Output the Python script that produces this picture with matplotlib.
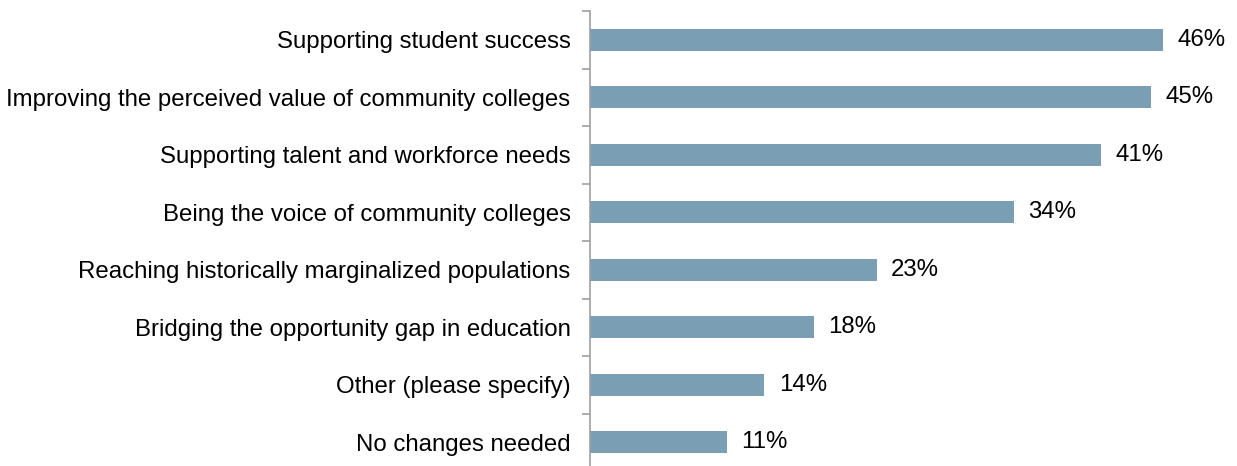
import matplotlib.pyplot as plt
import numpy as np

plt.rcParams['font.family'] = ['Liberation Sans', 'DejaVu Sans']

categories = [
    'Supporting student success',
    'Improving the perceived value of community colleges',
    'Supporting talent and workforce needs',
    'Being the voice of community colleges',
    'Reaching historically marginalized populations',
    'Bridging the opportunity gap in education',
    'Other (please specify)',
    'No changes needed',
]
values = [46, 45, 41, 34, 23, 18, 14, 11]

fig = plt.figure(figsize=(12.37, 4.66), dpi=100)
ax = fig.add_axes([590 / 1237, -5 / 466, 1 - 590 / 1237 - 24 / 1237, 460 / 466])

y = np.arange(len(categories))
bars = ax.barh(y, values, height=0.39, color='#7a9eb3')
ax.set_ylim(len(categories) - 0.5, -0.5)
ax.set_xlim(0, 50)

# percentage labels to the right of each bar
for b, v in zip(bars, values):
    ax.text(b.get_width() + 1.15, b.get_y() + b.get_height() / 2, f'{v}%',
            va='center', ha='left', fontsize=17.3)

ax.set_yticks(y)
ax.set_yticklabels(categories, fontsize=17.3)
ax.set_yticks(np.arange(-0.5, len(categories)), minor=True)
ax.tick_params(axis='y', which='major', length=0, pad=14)
ax.tick_params(axis='y', which='minor', length=6, color='#a0a0a0', width=1.2)
ax.set_xticks([])

for s in ['top', 'right', 'bottom']:
    ax.spines[s].set_visible(False)
ax.spines['left'].set_color('#a0a0a0')
ax.spines['left'].set_linewidth(1.2)

fig.savefig('out.png', dpi=100)
